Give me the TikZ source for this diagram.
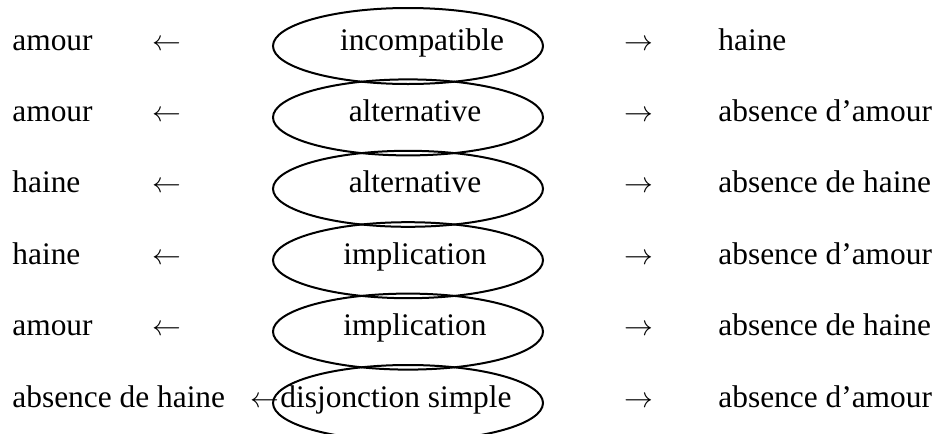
\documentclass[tikz,border=0pt]{standalone}
\usepackage{fontspec}
\setmainfont{Liberation Serif}
\usetikzlibrary{shapes.geometric}

\begin{document}
\begin{tikzpicture}[x=0.5pt,y=-0.5pt,
  every node/.style={font=\fontsize{15.7}{18}\selectfont,inner sep=0pt},
  word/.style={anchor=base west},
  arr/.style={anchor=base},
  oval/.style={draw,ellipse,line width=1pt,minimum width=135pt,minimum height=38pt}]
\useasboundingbox (0,0) rectangle (938,434);
% ovals
\node[oval] (o1) at (408,46) {};
\node[oval] (o2) at (408,117.4) {};
\node[oval] (o3) at (408,188.8) {};
\node[oval] (o4) at (408,260.2) {};
\node[oval] (o5) at (408,331.6) {};
\node[oval] (o6) at (408,403) {};
% left column
\node[word] (l1) at (12,50) {amour};
\node[word] (l2) at (12,121.4) {amour};
\node[word] (l3) at (12,192.8) {haine};
\node[word] (l4) at (12,264.2) {haine};
\node[word] (l5) at (12,335.6) {amour};
\node[word] (l6) at (12,407) {absence de haine};
\node[arr] (la1) at (167,50) {$\leftarrow$};
\node[arr] (la2) at (167,121.4) {$\leftarrow$};
\node[arr] (la3) at (167,192.8) {$\leftarrow$};
\node[arr] (la4) at (167,264.2) {$\leftarrow$};
\node[arr] (la5) at (167,335.6) {$\leftarrow$};
\node[arr] (la6) at (265,407) {$\leftarrow$};
% middle
\node[arr] (m1) at (422,50) {incompatible};
\node[arr] (m2) at (415,121.4) {alternative};
\node[arr] (m3) at (415,192.8) {alternative};
\node[arr] (m4) at (415,264.2) {implication};
\node[arr] (m5) at (415,335.6) {implication};
\node[arr] (m6) at (396,407) {disjonction simple};
% right column
\node[arr] (ra1) at (639,50) {$\rightarrow$};
\node[arr] (ra2) at (639,121.4) {$\rightarrow$};
\node[arr] (ra3) at (639,192.8) {$\rightarrow$};
\node[arr] (ra4) at (639,264.2) {$\rightarrow$};
\node[arr] (ra5) at (639,335.6) {$\rightarrow$};
\node[arr] (ra6) at (639,407) {$\rightarrow$};
\node[word] (r1) at (718,50) {haine};
\node[word] (r2) at (718,121.4) {absence d’amour};
\node[word] (r3) at (718,192.8) {absence de haine};
\node[word] (r4) at (718,264.2) {absence d’amour};
\node[word] (r5) at (718,335.6) {absence de haine};
\node[word] (r6) at (718,407) {absence d’amour};
\end{tikzpicture}
\end{document}
